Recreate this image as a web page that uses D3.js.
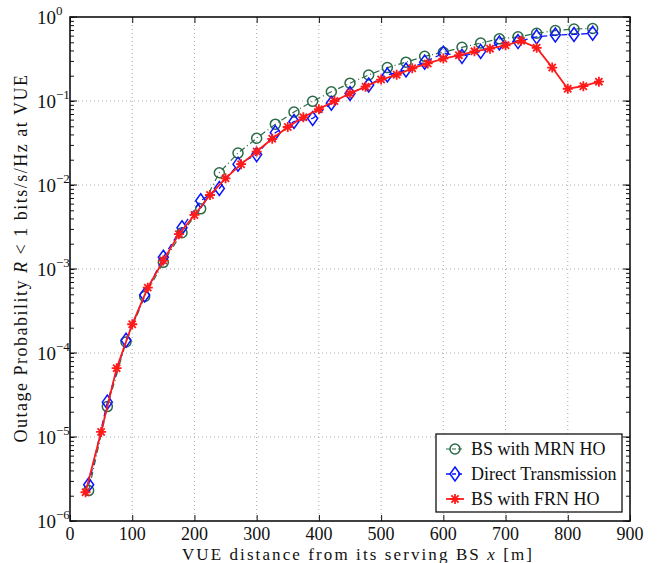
<!DOCTYPE html>
<html>
<head>
<meta charset="utf-8">
<script src="https://cdn.jsdelivr.net/npm/d3@7"></script>
<style>
body { margin: 0; background: #fff; }
</style>
</head>
<body>
<div id="chart"></div>
<script>
// Distances (m) of the simulated points
var xMRN = [30,60,90,120,150,180,210,240,270,300,330,360,390,420,450,480,510,540,570,600,630,660,690,720,750,780,810,840];
var xFRN = [25,50,75,100,125,150,175,200,225,250,275,300,325,350,375,400,425,450,475,500,525,550,575,600,625,650,675,700,725,750,775,800,825,850];
// Outage probabilities
var pMRN = [2.3e-6,2.3e-5,1.35e-4,4.7e-4,1.2e-3,2.7e-3,5.2e-3,1.4e-2,2.4e-2,3.6e-2,5.3e-2,7.4e-2,0.099,0.129,0.163,0.204,0.25,0.29,0.34,0.38,0.435,0.49,0.55,0.58,0.64,0.69,0.72,0.73];
var pDirect = [2.7e-6,2.6e-5,1.42e-4,4.9e-4,1.38e-3,3.1e-3,6.5e-3,9.1e-3,1.77e-2,2.3e-2,4.2e-2,5.7e-2,6.2e-2,0.094,0.123,0.155,0.204,0.234,0.29,0.37,0.34,0.39,0.49,0.51,0.58,0.61,0.62,0.64];
var pFRN = [2.2e-6,1.15e-5,6.6e-5,2.2e-4,6.0e-4,1.26e-3,2.6e-3,4.4e-3,7.6e-3,1.2e-2,1.77e-2,2.5e-2,3.55e-2,4.9e-2,6.4e-2,8.0e-2,0.10,0.123,0.148,0.18,0.205,0.245,0.28,0.32,0.35,0.39,0.42,0.46,0.52,0.43,0.25,0.14,0.15,0.17];
var seriesNames = ["BS with MRN HO","Direct Transmission","BS with FRN HO"];
var xTicks = [0,100,200,300,400,500,600,700,800,900];
var yExps = [0,-1,-2,-3,-4,-5,-6];

var W = 659, H = 563;
var m = {left: 70, top: 17, right: 29, bottom: 42};
var pw = W - m.left - m.right, ph = H - m.top - m.bottom;
var FONT = "'Liberation Serif'";

var svg = d3.select("#chart").append("svg").attr("width", W).attr("height", H);
var g = svg.append("g").attr("transform", "translate(" + m.left + "," + m.top + ")");

var x = d3.scaleLinear().domain([0, 900]).range([0, pw]);
var y = d3.scaleLog().domain([1e-6, 1]).range([ph, 0]);

// Grid (dotted)
g.selectAll(".gx").data(xTicks.slice(1, -1)).enter().append("line")
	.attr("x1", function(d){ return x(d); }).attr("x2", function(d){ return x(d); })
	.attr("y1", 0).attr("y2", ph)
	.attr("stroke", "#aaa").attr("stroke-width", 1).attr("stroke-dasharray", "1,3");
g.selectAll(".gy").data(yExps.slice(1, -1)).enter().append("line")
	.attr("y1", function(d){ return y(Math.pow(10, d)); }).attr("y2", function(d){ return y(Math.pow(10, d)); })
	.attr("x1", 0).attr("x2", pw)
	.attr("stroke", "#aaa").attr("stroke-width", 1).attr("stroke-dasharray", "1,3");

// Axes with inward ticks
var xAxisB = d3.axisBottom(x).tickValues(xTicks).tickSize(-6).tickFormat("");
var xAxisT = d3.axisTop(x).tickValues(xTicks).tickSize(-6).tickFormat("");
var minor = [];
for (var e = -6; e < 0; e++) for (var k = 1; k < 10; k++) minor.push(k * Math.pow(10, e));
minor.push(1);
var yAxisL = d3.axisLeft(y).tickValues(minor).tickSize(-4).tickFormat("");
var yAxisR = d3.axisRight(y).tickValues(minor).tickSize(-4).tickFormat("");
[ [xAxisB, "translate(0," + ph + ")"], [xAxisT, null], [yAxisL, null], [yAxisR, "translate(" + pw + ",0)"] ].forEach(function(a){
	var ax = g.append("g").call(a[0]);
	if (a[1]) ax.attr("transform", a[1]);
	ax.select(".domain").remove();
	ax.selectAll("line").attr("stroke", "#111");
});
// major y ticks are longer
g.selectAll(".ymaj").data(yExps).enter().append("line")
	.attr("x1", 0).attr("x2", 7)
	.attr("y1", function(d){ return y(Math.pow(10, d)); }).attr("y2", function(d){ return y(Math.pow(10, d)); })
	.attr("stroke", "#111");
g.selectAll(".ymajr").data(yExps).enter().append("line")
	.attr("x1", pw - 7).attr("x2", pw)
	.attr("y1", function(d){ return y(Math.pow(10, d)); }).attr("y2", function(d){ return y(Math.pow(10, d)); })
	.attr("stroke", "#111");

g.append("rect").attr("width", pw).attr("height", ph)
	.attr("fill", "none").attr("stroke", "#111").attr("stroke-width", 1.6);

// Tick labels
g.selectAll(".xl").data(xTicks).enter().append("text")
	.style("font-family", FONT)
	.attr("x", function(d){ return x(d); }).attr("y", ph + 19)
	.attr("text-anchor", "middle").attr("font-size", 18).attr("fill", "#111").text(String);
var yl = g.selectAll(".yl").data(yExps).enter().append("text")
	.style("font-family", FONT)
	.attr("x", -33).attr("y", function(d){ return y(Math.pow(10, d)) + 7; })
	.attr("text-anchor", "start").attr("font-size", 19).attr("fill", "#111");
yl.append("tspan").text("10");
yl.append("tspan").attr("dy", -9).attr("font-size", 13)
	.text(function(d){ return d === 0 ? "0" : "\u2212" + (-d); });

// Axis titles
var xt = svg.append("text").style("font-family", FONT)
	.attr("x", m.left + pw / 2 + 8).attr("y", 560)
	.attr("text-anchor", "middle").attr("font-size", 17).attr("letter-spacing", 2.1).attr("fill", "#111");
xt.append("tspan").text("VUE distance from its serving BS ");
xt.append("tspan").attr("font-style", "italic").text("x");
xt.append("tspan").text(" [m]");
var yt = svg.append("text").style("font-family", FONT)
	.attr("transform", "translate(27," + (m.top + ph / 2 - 11) + ") rotate(-90)")
	.attr("text-anchor", "middle").attr("font-size", 18).attr("letter-spacing", 1.5).attr("fill", "#111");
yt.append("tspan").text("Outage Probability ");
yt.append("tspan").attr("font-style", "italic").text("R");
yt.append("tspan").text(" < 1 bits/s/Hz at VUE");

// Series
var series = [
	{name: seriesNames[0], xs: xMRN, ys: pMRN, color: "#2b6a47", dash: "6,3,1,3", width: 1.2, marker: "circle"},
	{name: seriesNames[1], xs: xMRN, ys: pDirect, color: "#0a14ff", dash: "6,4", width: 1.3, marker: "diamond"},
	{name: seriesNames[2], xs: xFRN, ys: pFRN, color: "#ff1a1a", dash: null, width: 1.8, marker: "star"}
];

function drawMarker(sel, type, color) {
	if (type === "circle") {
		sel.append("circle").attr("r", 5).attr("fill", "none").attr("stroke", color).attr("stroke-width", 1.5);
	} else if (type === "diamond") {
		sel.append("path").attr("d", "M0,-7L5,0L0,7L-5,0Z").attr("fill", "none").attr("stroke", color).attr("stroke-width", 1.5);
	} else {
		sel.append("path").attr("d", "M-5,0H5M0,-5V5M-3.6,-3.6L3.6,3.6M-3.6,3.6L3.6,-3.6")
			.attr("stroke", color).attr("stroke-width", 1.8);
	}
}

var line = d3.line().x(function(d){ return x(d[0]); }).y(function(d){ return y(d[1]); });
series.forEach(function(s){
	var pts = d3.zip(s.xs, s.ys);
	g.append("path").datum(pts).attr("d", line)
		.attr("fill", "none").attr("stroke", s.color).attr("stroke-width", s.width)
		.attr("stroke-dasharray", s.dash);
	g.selectAll(null).data(pts).enter().append("g")
		.attr("transform", function(d){ return "translate(" + x(d[0]) + "," + y(d[1]) + ")"; })
		.each(function(){ drawMarker(d3.select(this), s.marker, s.color); });
});

// Legend
var lg = svg.append("g").attr("transform", "translate(436,434)");
lg.append("rect").attr("width", 186).attr("height", 78)
	.attr("fill", "#fff").attr("stroke", "#111").attr("stroke-width", 1.3);
series.forEach(function(s, i){
	var yy = 15 + i * 25;
	lg.append("line").attr("x1", 10).attr("x2", 28).attr("y1", yy).attr("y2", yy)
		.attr("stroke", s.color).attr("stroke-width", s.width).attr("stroke-dasharray", s.dash ? "4,2" : null);
	var mk = lg.append("g").attr("transform", "translate(19," + yy + ")");
	drawMarker(mk, s.marker, s.color);
	lg.append("text").style("font-family", FONT)
		.attr("x", 35).attr("y", yy + 6).attr("font-size", 18).attr("fill", "#111").text(s.name);
});
</script>
</body>
</html>
